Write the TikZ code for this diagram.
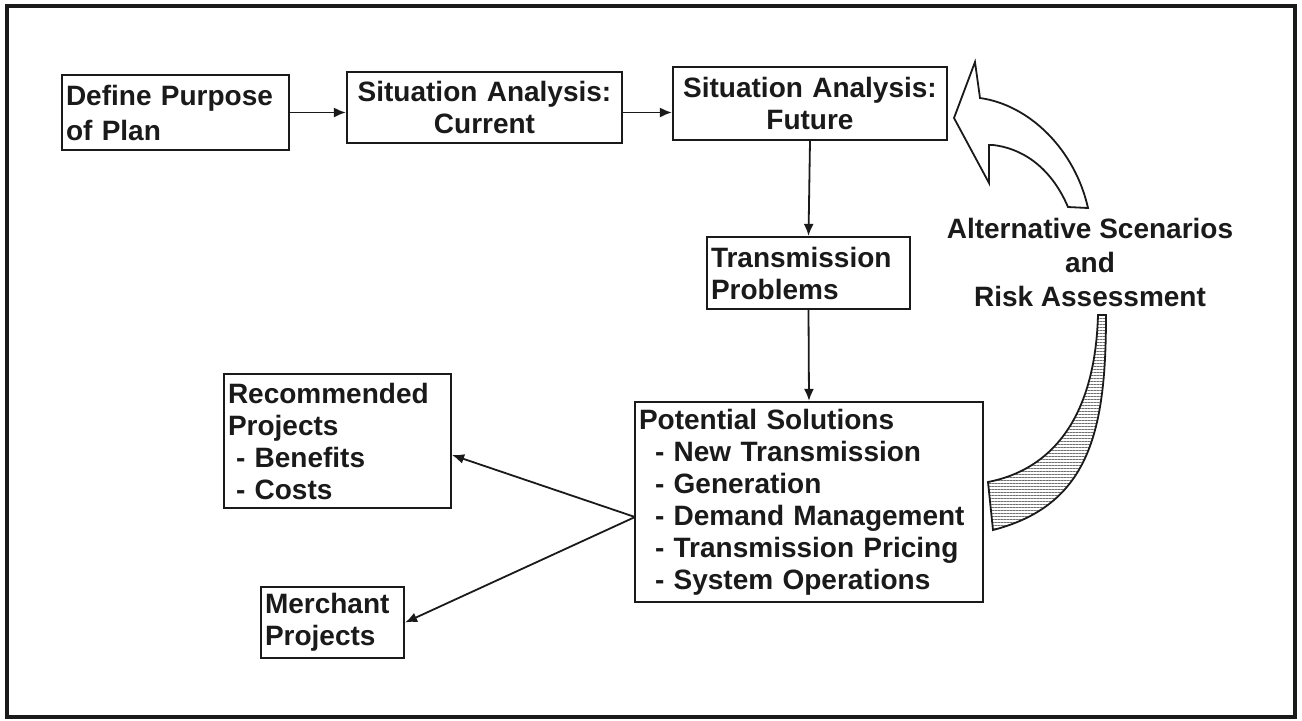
\documentclass[tikz,border=0pt]{standalone}
\usepackage{fontspec}
\setmainfont{Liberation Sans}
\usetikzlibrary{arrows.meta,patterns.meta}
\definecolor{PlanInk}{HTML}{1A1A1A}
\definecolor{PlanHatch}{HTML}{707070}
\newcommand{\planitem}{\hspace*{8pt}- }

\begin{document}
\begin{tikzpicture}[x=0.5pt,y=-0.5pt,
    every node/.style={font=\bfseries\fontsize{14}{16}\selectfont, text=PlanInk},
    planbox/.style={draw=PlanInk, line width=1.1pt, inner xsep=2pt, inner ysep=2pt, align=left},
    flow/.style={-{Latex[length=6pt,width=5pt]}, line width=0.9pt, PlanInk}]
  \useasboundingbox (0,0) rectangle (1302,720);
  \draw[line width=1.6pt,PlanInk] (7,6) rectangle (1295,717);

  % planning steps
  \node[planbox, text width=109.5pt, minimum height=37.5pt,
        font=\bfseries\fontsize{14}{17.5}\selectfont] (purpose) at (175.5,112.5) {Define Purpose\\of Plan};
  \node[planbox, text width=133.5pt, minimum height=35.5pt, align=center] (current) at (484.5,107.5) {Situation Analysis:\\Current};
  \node[planbox, text width=133pt, minimum height=36.5pt, align=center] (future) at (810,103.5) {Situation Analysis:\\Future};
  \node[planbox, text width=97.5pt, minimum height=36pt] (problems) at (808.5,273) {Transmission\\Problems};
  \node[planbox, text width=170pt, minimum height=100pt] (solutions) at (809,502)
    {Potential Solutions\\\planitem New Transmission\\\planitem Generation\\\planitem Demand Management\\\planitem Transmission Pricing\\\planitem System Operations};
  \node[planbox, text width=109.5pt, minimum height=67pt] (recommended) at (337.5,441)
    {Recommended\\Projects\\\hspace*{4pt}- Benefits\\\hspace*{4pt}- Costs};
  \node[planbox, text width=67.5pt, minimum height=35.5pt] (merchant) at (332.5,622.5) {Merchant\\Projects};

  \node[align=center, font=\bfseries\fontsize{14}{17}\selectfont] (scenarios) at (1090,262)
    {Alternative Scenarios\\and\\Risk Assessment};

  % connectors
  \draw[flow] (purpose.east) -- (current.west |- purpose.east);
  \draw[flow] (current.east |- purpose.east) -- (future.west |- purpose.east);
  \draw[flow] (future.south) -- (problems.north);
  \draw[flow] (problems.south) -- (solutions.north);
  \coordinate (fork) at (635,517);
  \draw[flow] (fork) -- ([yshift=-7pt]recommended.east);
  \draw[flow] (fork) -- (merchant.east);

  % feedback arrow
  \draw[line width=0.9pt, PlanInk, fill=white] (954,118) -- (975,62) -- (980,98)
    .. controls (1030,105) and (1075,150) .. (1088,208) -- (1068,207)
    .. controls (1050,165) and (1020,148) .. (993,145) -- (989,145) -- (989,183) -- cycle;
  \draw[line width=0.9pt, PlanInk, pattern={Lines[distance=1.5pt,line width=0.4pt]}, pattern color=PlanHatch]
    (1098,315) -- (1106,315) .. controls (1106,430) and (1090,505) .. (993,530) -- (988,482)
    .. controls (1050,470) and (1095,420) .. (1098,315) -- cycle;
\end{tikzpicture}
\end{document}
